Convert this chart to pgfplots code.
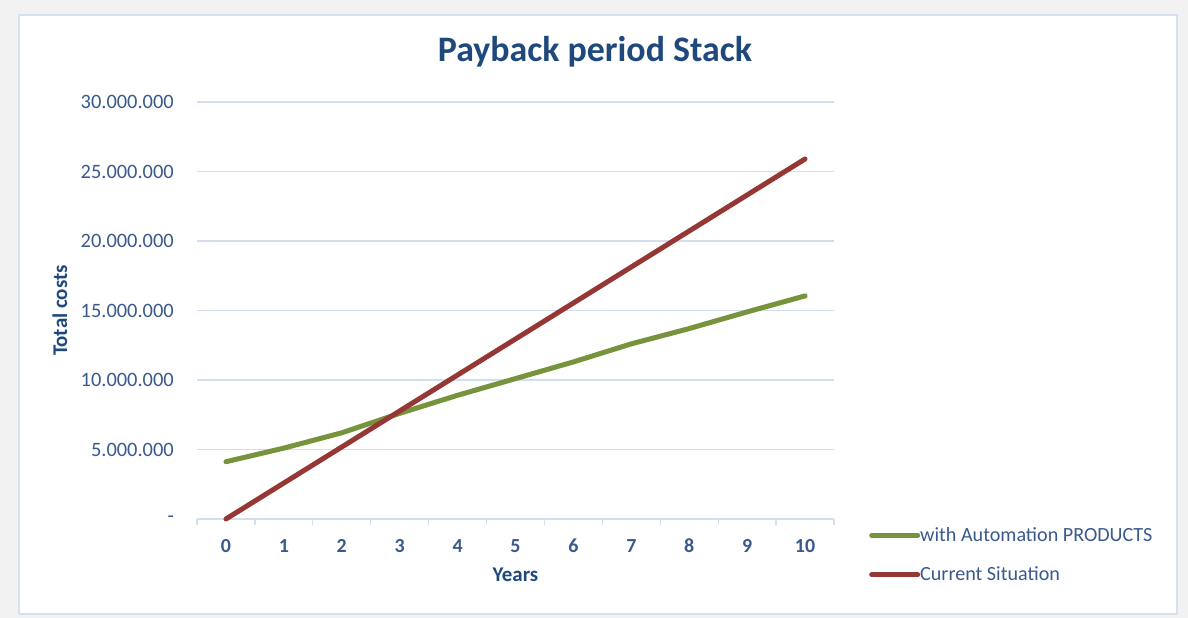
\documentclass[border=0pt]{standalone}
\usepackage{pgfplots}
\pgfplotsset{compat=1.18}
\usepackage{fontspec}
\setmainfont{Carlito}
\definecolor{bggray}{HTML}{F2F2F2}
\definecolor{framec}{HTML}{D5E1EF}
\definecolor{gridc}{HTML}{D3DFEE}
\definecolor{titlec}{HTML}{1F497D}
\definecolor{tickc}{HTML}{3A5A8C}
\definecolor{greenc}{HTML}{77933C}
\definecolor{redc}{HTML}{953735}
\begin{document}
\begin{tikzpicture}[x=1bp,y=1bp]
\fill[bggray] (0,0) rectangle (1188,618);
\filldraw[fill=white, draw=framec, line width=1.5bp] (19,4) rectangle (1177,603);
\node[font=\fontsize{36}{42}\selectfont\bfseries, text=titlec, anchor=center] at (595,566) {Payback period Stack};
\begin{axis}[
  at={(197bp,99bp)}, anchor=south west,
  width=637bp, height=417bp, scale only axis,
  xmin=-0.5, xmax=10.5, ymin=0, ymax=30,
  axis line style={draw=none},
  ymajorgrids, grid style={draw=gridc, line width=1.3bp},
  ytick={0,5,10,15,20,25,30},
  yticklabels={{-},{5.000.000},{10.000.000},{15.000.000},{20.000.000},{25.000.000},{30.000.000}},
  xtick={0,1,2,3,4,5,6,7,8,9,10},
  xticklabels={0,1,2,3,4,5,6,7,8,9,10},
  minor xtick={-0.5,0.5,1.5,2.5,3.5,4.5,5.5,6.5,7.5,8.5,9.5,10.5},
  major tick length=0pt,
  minor tick length=6bp,
  tick align=outside,
  xtick pos=bottom, ytick pos=left,
  minor tick style={draw=gridc, line width=1.3bp},
  yticklabel style={font=\fontsize{20.5}{24}\selectfont, text=tickc, anchor=east, inner sep=0pt, xshift=-23bp},
  xticklabel style={font=\fontsize{20}{24}\selectfont\bfseries, text=tickc, anchor=center, inner sep=0pt, yshift=-27bp},
  xlabel={Years}, ylabel={Total costs},
  xlabel style={font=\fontsize{21}{24}\selectfont\bfseries, text=titlec, at={(axis description cs:0.5,-0.1343)}, anchor=center, inner sep=0pt},
  ylabel style={font=\fontsize{21}{24}\selectfont\bfseries, text=titlec, at={(axis description cs:-0.2151,0.5)}, anchor=center, inner sep=0pt},
  legend style={draw=none, fill=none, at={(axis description cs:1.0549,-0.0863)}, anchor=west, inner sep=0pt, row sep=24bp, column sep=0bp,
    font=\fontsize{20.2}{24}\selectfont, text=tickc, nodes={inner sep=0pt, anchor=west}},
  legend cell align=left,
  legend image code/.code={\draw[#1, line width=5bp, line cap=round] (1bp,0bp) -- (47bp,0bp);},
  clip=false,
]
\addplot[greenc, line width=5bp, line cap=round, line join=round] coordinates {
 (0,4.12) (1,5.1) (2,6.2) (3,7.6) (4,8.9) (5,10.1) (6,11.3) (7,12.6) (8,13.7) (9,14.9) (10,16.05)
};
\addlegendentry{with Automation PRODUCTS}
\addplot[redc, line width=5bp, line cap=round, line join=round] coordinates {
 (0,0) (1,2.59) (2,5.18) (3,7.77) (4,10.36) (5,12.95) (6,15.54) (7,18.13) (8,20.72) (9,23.31) (10,25.9)
};
\addlegendentry{Current Situation}
\end{axis}
\pgfresetboundingbox
\useasboundingbox (0,0) rectangle (1188,618);
\end{tikzpicture}
\end{document}
